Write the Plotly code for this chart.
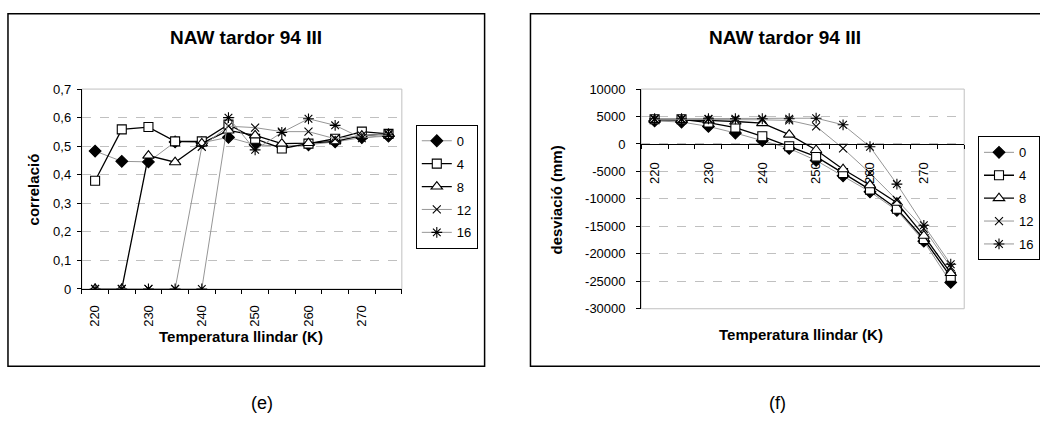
import plotly.graph_objects as go

# ---------------- data ----------------
temps = [220, 225, 230, 235, 240, 245, 250, 255, 260, 265, 270, 275]
series_names = ["0", "4", "8", "12", "16"]

corr_0 = [0.483, 0.447, 0.445, 0.515, 0.512, 0.531, 0.505, 0.500, 0.505, 0.515, 0.530, 0.535]
corr_4 = [0.379, 0.559, 0.567, 0.517, 0.517, 0.576, 0.526, 0.492, 0.509, 0.526, 0.551, 0.543]
corr_8 = [0.0, 0.0, 0.467, 0.444, 0.510, 0.555, 0.538, 0.509, 0.511, 0.517, 0.537, 0.543]
corr_12 = [0.0, 0.0, 0.0, 0.0, 0.498, 0.570, 0.565, 0.551, 0.551, 0.526, 0.537, 0.543]
corr_16 = [0.0, 0.0, 0.0, 0.0, 0.0, 0.600, 0.487, 0.548, 0.596, 0.573, 0.528, 0.540]

dev_0 = [4200, 4000, 3200, 2000, 600, -800, -3000, -5800, -8700, -12100, -17700, -25200]
dev_4 = [4500, 4500, 3900, 3000, 1400, -400, -2300, -5300, -8300, -11800, -17300, -24200]
dev_8 = [4400, 4400, 4300, 4100, 3800, 1700, -1100, -4600, -7500, -10700, -16700, -23500]
dev_12 = [4500, 4500, 4500, 4400, 4400, 4300, 3200, -800, -5300, -10200, -15400, -22400]
dev_16 = [4600, 4600, 4600, 4600, 4600, 4600, 4700, 3500, -500, -7300, -14800, -21900]

x_tick_labels = [220, 230, 240, 250, 260, 270]
corr_ticks = [0, 0.1, 0.2, 0.3, 0.4, 0.5, 0.6, 0.7]
dev_ticks = [-30000, -25000, -20000, -15000, -10000, -5000, 0, 5000, 10000]

chart_title = "NAW tardor 94 III"
x_title = "Temperatura llindar (K)"
corr_title = "correlació"
dev_title = "desviació (mm)"
panel_labels = ["(e)", "(f)"]

corr_series = [corr_0, corr_4, corr_8, corr_12, corr_16]
dev_series = [dev_0, dev_4, dev_8, dev_12, dev_16]

# ---------------- styling ----------------
W, H = 1040, 436
FONT = "Liberation Sans, Arial, sans-serif"
GRAY = "#969696"
GRID = "#c0c0c0"


def px(x):
    return x / W


def py(y):
    return 1 - y / H


styles = [
    dict(symbol="diamond", size=9, fill="black", line=GRAY, lw=1.0),
    dict(symbol="square", size=9, fill="white", line="black", lw=1.3),
    dict(symbol="triangle-up", size=10, fill="white", line="black", lw=1.3),
    dict(symbol="x-thin-open", size=8, fill="black", line=GRAY, lw=1.0),
    dict(symbol="asterisk-open", size=9, fill="black", line=GRAY, lw=1.0),
]

fig = go.Figure()

for i, name in enumerate(series_names):
    st = styles[i]
    marker = dict(symbol=st["symbol"], size=st["size"], color=st["fill"],
                  line=dict(color="black", width=1.1))
    fig.add_trace(go.Scatter(
        x=temps, y=corr_series[i], name=name, mode="lines+markers",
        line=dict(color=st["line"], width=st["lw"]), marker=marker,
        xaxis="x", yaxis="y", legend="legend", legendgroup="L" + name,
    ))
    fig.add_trace(go.Scatter(
        x=temps, y=dev_series[i], name=name, mode="lines+markers",
        line=dict(color=st["line"], width=st["lw"]), marker=marker,
        xaxis="x2", yaxis="y2", legend="legend2", legendgroup="R" + name,
    ))

# plot area geometry (pixels)
L_x0, L_x1, L_y0, L_y1 = 82, 403, 85, 292
R_x0, R_x1, R_y0, R_y1 = 643, 967, 85, 312.5
r_dom = [py(R_y1), py(R_y0)]
zero_frac = (0 - dev_ticks[0]) / (dev_ticks[-1] - dev_ticks[0])
zero_pos = r_dom[0] + zero_frac * (r_dom[1] - r_dom[0])

xrange_ = [temps[0] - 2.5, temps[-1] + 2.5]
minor = dict(tickmode="linear", tick0=temps[0] - 2.5, dtick=5, ticks="outside",
             ticklen=4, tickcolor="black", tickwidth=1, showgrid=False)

TICKFONT = dict(family=FONT, size=13, color="black")
common_x = dict(range=xrange_, tickmode="array", tickvals=x_tick_labels,
                ticktext=[str(v) for v in x_tick_labels], tickangle=-90, ticks="",
                showline=True, linecolor="black", linewidth=1, showgrid=False,
                zeroline=False, minor=minor, tickfont=TICKFONT)

fig.update_layout(
    width=W, height=H, margin=dict(l=0, r=0, t=0, b=0),
    paper_bgcolor="white", plot_bgcolor="white",
    font=dict(family=FONT, color="black"),
    xaxis=dict(domain=[px(L_x0), px(L_x1)], anchor="y", ticklabelstandoff=10, **common_x),
    yaxis=dict(domain=[py(L_y1), py(L_y0)], anchor="x", range=[0, 0.7],
               tickmode="array", tickvals=corr_ticks,
               ticktext=[("%g" % v).replace(".", ",") for v in corr_ticks],
               ticks="outside", ticklen=4, tickcolor="black",
               showline=True, linecolor="black", linewidth=1,
               showgrid=True, gridcolor=GRID, griddash="dash", gridwidth=1,
               zeroline=False, ticklabelstandoff=3, tickfont=TICKFONT),
    xaxis2=dict(domain=[px(R_x0), px(R_x1)], anchor="free", position=zero_pos,
                ticklabelstandoff=12, **common_x),
    yaxis2=dict(domain=r_dom, anchor="x2", range=[dev_ticks[0], dev_ticks[-1]],
                tickmode="array", tickvals=dev_ticks,
                ticktext=[str(v) for v in dev_ticks],
                ticks="outside", ticklen=4, tickcolor="black",
                showline=True, linecolor="black", linewidth=1,
                showgrid=True, gridcolor=GRID, griddash="dash", gridwidth=1,
                zeroline=False, ticklabelstandoff=8, tickfont=TICKFONT),
    legend=dict(x=px(417), y=py(122), xanchor="left", yanchor="top",
                bordercolor="black", borderwidth=1, bgcolor="white",
                font=dict(family=FONT, size=13, color="black"),
                tracegroupgap=3, itemwidth=30),
    legend2=dict(x=px(981), y=py(134), xanchor="left", yanchor="top",
                 bordercolor="black", borderwidth=1, bgcolor="white",
                 font=dict(family=FONT, size=13, color="black"),
                 tracegroupgap=3, itemwidth=30),
    showlegend=True,
)

shapes = [
    dict(type="rect", xref="x domain", yref="y domain", x0=0, x1=1, y0=0, y1=1,
         line=dict(color=GRID, width=1), layer="below"),
    dict(type="rect", xref="x2 domain", yref="y2 domain", x0=0, x1=1, y0=0, y1=1,
         line=dict(color=GRID, width=1), layer="below"),
    dict(type="rect", xref="paper", yref="paper", x0=px(8), x1=px(486), y0=py(372), y1=py(7),
         line=dict(color="black", width=1.5)),
    dict(type="rect", xref="paper", yref="paper", x0=px(532), x1=px(1060), y0=py(372), y1=py(7),
         line=dict(color="black", width=1.5)),
]
fig.update_layout(shapes=shapes)

ann = [
    dict(x=px(247), y=py(32), text="<b>" + chart_title + "</b>", font=dict(size=19)),
    dict(x=px(787), y=py(32), text="<b>" + chart_title + "</b>", font=dict(size=19)),
    dict(x=px(242), y=py(341), text="<b>" + x_title + "</b>", font=dict(size=15)),
    dict(x=px(803), y=py(339), text="<b>" + x_title + "</b>", font=dict(size=15)),
    dict(x=px(34), y=py(189), text="<b>" + corr_title + "</b>", font=dict(size=15), textangle=-90),
    dict(x=px(558), y=py(200), text="<b>" + dev_title + "</b>", font=dict(size=15), textangle=-90),
    dict(x=px(263), y=py(410), text=panel_labels[0], font=dict(size=18)),
    dict(x=px(780), y=py(410), text=panel_labels[1], font=dict(size=18)),
]
for a in ann:
    a.update(xref="paper", yref="paper", showarrow=False, xanchor="center", yanchor="middle")
    a["font"] = dict(family=FONT, color="black", **a["font"])
fig.update_layout(annotations=ann)

fig.write_html("out.html", config={"displayModeBar": False},
               post_script="document.body.style.margin='0';")
